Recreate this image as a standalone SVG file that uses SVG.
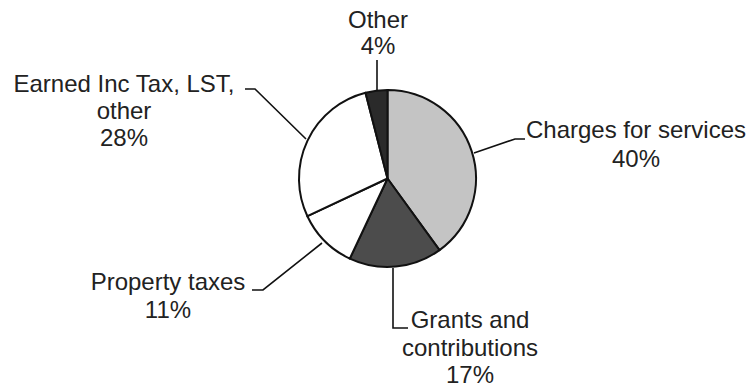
<svg xmlns="http://www.w3.org/2000/svg" width="750" height="390" viewBox="0 0 750 390">
  <style>
    .lbl { font-family: "Liberation Sans", Arial, sans-serif; font-size: 24px; fill: #222; text-anchor: middle; }
    .slice { stroke: #111; stroke-width: 2; stroke-linejoin: round; }
    .lead { fill: none; stroke: #111; stroke-width: 1.6; }
  </style>
  <rect width="750" height="390" fill="#fff"/>
  <g id="pie">
    <g id="charges"><path class="slice" fill="#c4c4c4" d="M387.5,178.5 L387.5,90 A88.5,88.5 0 0 1 439.5,250.1 Z"/></g>
    <g id="grants"><path class="slice" fill="#4c4c4c" d="M387.5,178.5 L439.5,250.1 A88.5,88.5 0 0 1 349.8,258.6 Z"/></g>
    <g id="property"><path class="slice" fill="#fff" d="M387.5,178.5 L349.8,258.6 A88.5,88.5 0 0 1 307.4,216.2 Z"/></g>
    <g id="earned"><path class="slice" fill="#fff" d="M387.5,178.5 L307.4,216.2 A88.5,88.5 0 0 1 365.5,92.8 Z"/></g>
    <g id="other"><path class="slice" fill="#2a2a2a" d="M387.5,178.5 L365.5,92.8 A88.5,88.5 0 0 1 387.5,90 Z"/></g>
  </g>
  <g id="connectors">
    <path class="lead" d="M377,60 L377,91"/>
    <path class="lead" d="M245,89 L255,89 L306,139"/>
    <path class="lead" d="M474,153 L515,139 L525,139"/>
    <path class="lead" d="M252,290 L263,290 L322,243"/>
    <path class="lead" d="M393,268 L393,328 L408,328"/>
  </g>
  <g id="label-other">
    <text class="lbl" x="378" y="28">Other</text>
    <text class="lbl" x="378" y="54">4%</text>
  </g>
  <g id="label-earned">
    <text class="lbl" x="124" y="92">Earned Inc Tax, LST,</text>
    <text class="lbl" x="124" y="119">other</text>
    <text class="lbl" x="124" y="146">28%</text>
  </g>
  <g id="label-charges">
    <text class="lbl" x="636" y="138">Charges for services</text>
    <text class="lbl" x="636" y="167">40%</text>
  </g>
  <g id="label-property">
    <text class="lbl" x="168" y="290">Property taxes</text>
    <text class="lbl" x="168" y="318">11%</text>
  </g>
  <g id="label-grants">
    <text class="lbl" x="470" y="328">Grants and</text>
    <text class="lbl" x="470" y="356">contributions</text>
    <text class="lbl" x="470" y="383">17%</text>
  </g>
</svg>
